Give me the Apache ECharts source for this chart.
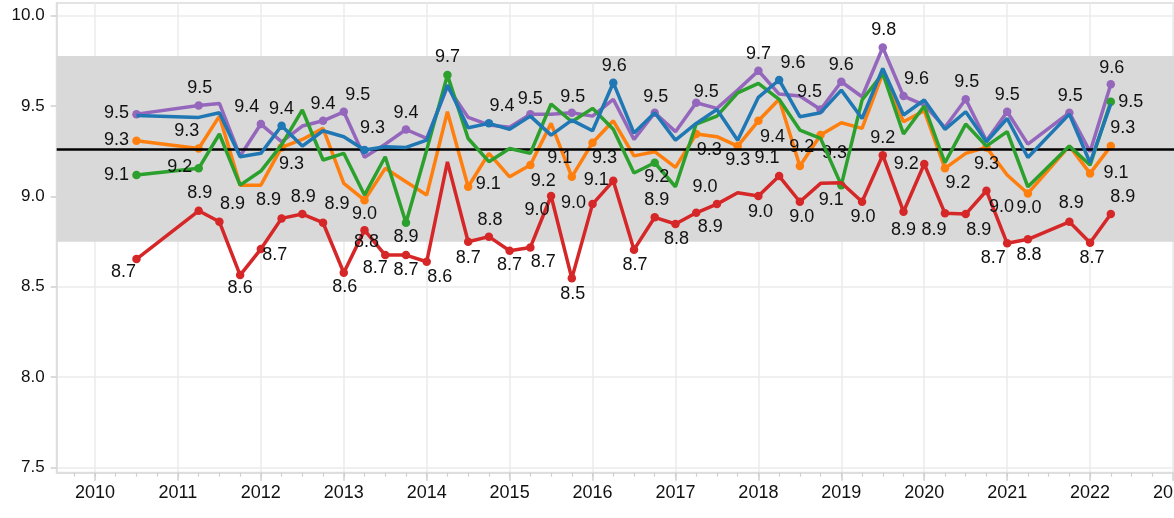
<!DOCTYPE html>
<html>
<head>
<meta charset="utf-8">
<script src="https://cdn.jsdelivr.net/npm/echarts@6/dist/echarts.min.js"></script>
<style>
html,body{margin:0;padding:0;background:#fff;}
#chart{width:1174px;height:518px;}
</style>
</head>
<body>
<div id="chart"></div>
<script>
// ---------- data ----------
const dates = ['2010-07','2011-04','2011-07','2011-10','2012-01','2012-04','2012-07','2012-10',
  '2013-01','2013-04','2013-07','2013-10','2014-01','2014-04','2014-07','2014-10',
  '2015-01','2015-04','2015-07','2015-10','2016-01','2016-04','2016-07','2016-10',
  '2017-01','2017-04','2017-07','2017-10','2018-01','2018-04','2018-07','2018-10',
  '2019-01','2019-04','2019-07','2019-10','2020-01','2020-04','2020-07','2020-10',
  '2021-01','2021-04','2021-10','2022-01','2022-04'];

const purpleValues = [9.455,9.503,9.514,9.223,9.400,9.302,9.389,9.418,9.468,9.216,9.289,9.370,
  9.321,9.607,9.437,9.395,9.382,9.455,9.455,9.463,9.444,9.537,9.315,9.463,9.358,9.518,9.487,
  9.588,9.695,9.566,9.555,9.481,9.634,9.551,9.824,9.555,9.505,9.382,9.537,9.308,9.468,9.289,
  9.463,9.247,9.621];
const blueValues = [9.448,9.437,9.463,9.219,9.238,9.391,9.278,9.363,9.330,9.256,9.275,9.271,
  9.311,9.616,9.380,9.404,9.371,9.444,9.339,9.422,9.363,9.629,9.350,9.463,9.311,9.404,9.481,
  9.311,9.548,9.644,9.441,9.463,9.588,9.431,9.708,9.450,9.533,9.371,9.468,9.302,9.431,9.215,
  9.455,9.186,9.511];
const orangeValues = [9.308,9.265,9.444,9.062,9.062,9.271,9.315,9.376,9.072,8.979,9.155,9.081,
  9.007,9.468,9.053,9.238,9.108,9.173,9.404,9.108,9.297,9.418,9.224,9.247,9.160,9.345,9.330,
  9.278,9.418,9.537,9.168,9.339,9.407,9.376,9.680,9.413,9.474,9.155,9.238,9.271,9.118,9.016,
  9.278,9.127,9.278];
const greenValues = [9.118,9.155,9.345,9.062,9.140,9.285,9.478,9.201,9.238,9.007,9.219,8.854,
  9.257,9.671,9.320,9.192,9.265,9.238,9.511,9.413,9.487,9.371,9.129,9.186,9.053,9.400,9.444,
  9.573,9.625,9.537,9.367,9.321,9.062,9.533,9.680,9.345,9.500,9.186,9.400,9.278,9.358,9.053,
  9.278,9.173,9.524];
const redValues = [8.653,8.920,8.859,8.564,8.708,8.878,8.902,8.854,8.577,8.813,8.675,8.675,
  8.638,9.191,8.749,8.777,8.699,8.717,9.002,8.546,8.957,9.086,8.705,8.884,8.847,8.909,8.957,
  9.020,9.002,9.112,8.970,9.072,9.075,8.970,9.228,8.915,9.179,8.906,8.902,9.031,8.740,8.762,
  8.859,8.743,8.902];

const bandLow = 8.749;
const bandHigh = 9.777;
const meanValue = 9.2565;

const yTickLabels = [7.5, 8.0, 8.5, 9.0, 9.5, 10.0];
const xTickLabels = [2010,2011,2012,2013,2014,2015,2016,2017,2018,2019,2020,2021,2022,2023];

// ---------- label layout (point index -> [dx, dy] in px) ----------
const purpleLabelPos = {0:[-20,-1],1:[1,-17],4:[-14,-17],7:[0,-17],8:[14,-17],11:[0,-16],17:[0,-15],
  19:[1,-16],23:[1,-16],25:[10,-11],28:[0,-17],31:[-11,-17],32:[0,-17],34:[1,-17],35:[13,-17],
  38:[1,-17],40:[0,-17],42:[1,-17],44:[1,-16]};
const blueLabelPos = {5:[0,-17],9:[8,-22],15:[13,-17],21:[1,-17],29:[14,-17]};
const orangeLabelPos = {0:[-20,-1],1:[-12,-17],5:[10,17],9:[0,14],14:[20,-3],17:[13,16],19:[-12,-19],
  20:[12,15],25:[13,16],27:[0,14],28:[14,16],30:[2,-19],31:[14,18],37:[13,15],39:[0,17],41:[1,15],
  43:[26,0],44:[12,-18]};
const greenLabelPos = {0:[-20,0],1:[-19,-1],11:[0,14],13:[0,-18],23:[2,14],32:[-10,15],44:[20,0]};
const redLabelPos = {0:[-13,13],1:[1,-18],2:[13,-18],3:[0,13],4:[14,6],5:[-13,-18],6:[1,-17],7:[14,-19],
  8:[1,14],9:[2,12],10:[-10,13],11:[0,15],12:[13,15],14:[0,16],15:[1,-17],16:[0,14],17:[13,15],
  18:[-14,14],19:[1,16],20:[-19,-1],21:[-17,-1],22:[1,15],23:[2,-17],24:[1,15],25:[14,14],
  26:[-12,-17],28:[2,16],29:[-12,-18],30:[2,15],33:[1,15],34:[0,-17],35:[0,18],36:[-18,0],
  37:[-11,17],38:[13,16],39:[15,16],40:[-14,15],41:[1,16],42:[2,-19],43:[2,15],44:[12,-17]};

// ---------- helpers ----------
const FONT = "'Liberation Sans', Arial, Helvetica, sans-serif";
function toYear(d) {
  const p = d.split('-').map(Number);
  return p[0] + (p[1] - 1) / 12;
}
const quarterTicks = [];
xTickLabels.forEach(y => { [0, 0.25, 0.5, 0.75].forEach(q => quarterTicks.push(y - 1 + q)); });

function buildSeries(name, values, color, labelPos, z) {
  return {
    type: 'line', name: name, z: z,
    color: color,
    lineStyle: { width: 3.5, color: color },
    itemStyle: { color: color },
    symbol: 'circle', symbolSize: 8.5,
    showSymbol: true,
    label: { show: false },
    emphasis: { disabled: true },
    silent: true,
    animation: false,
    data: values.map((v, i) => {
      const item = { value: [toYear(dates[i]), v] };
      const off = labelPos[i];
      if (off) {
        item.label = {
          show: true, position: 'inside', offset: off,
          formatter: p => p.value[1].toFixed(1),
          fontSize: 18, color: '#111', fontFamily: FONT,
          textBorderWidth: 0, align: 'center', verticalAlign: 'middle'
        };
      } else {
        item.symbol = 'none';
      }
      return item;
    })
  };
}

const X_MIN = 2009.538, X_MAX = 2023.012;
const Y_MIN = 7.4704, Y_MAX = 10.0701;

const chart = echarts.init(document.getElementById('chart'), null, { renderer: 'canvas' });
chart.setOption({
  animation: false,
  backgroundColor: '#fff',
  grid: {
    left: 56.7, top: 3, right: 0, bottom: 45.3,
    containLabel: false, outerBoundsMode: 'none',
    show: true, borderColor: '#e3e3e3', borderWidth: 2, backgroundColor: 'transparent'
  },
  xAxis: [{
    type: 'value', min: X_MIN, max: X_MAX,
    axisLine: { show: true, lineStyle: { color: '#dcdcdc', width: 1.5 } },
    axisTick: { show: true, length: 8, customValues: xTickLabels, lineStyle: { color: '#cfcfcf', width: 1.5 } },
    axisLabel: {
      customValues: xTickLabels, margin: 11, fontSize: 18, color: '#111', fontFamily: FONT,
      formatter: v => String(Math.round(v))
    },
    splitLine: { show: true, lineStyle: { color: '#ebebeb', width: 1.5 } }
  }, {
    type: 'value', min: X_MIN, max: X_MAX, position: 'bottom',
    axisLine: { show: false },
    axisTick: { show: true, length: 4, customValues: quarterTicks, lineStyle: { color: '#cfcfcf', width: 1.2 } },
    axisLabel: { show: false },
    splitLine: { show: false }
  }],
  yAxis: {
    type: 'value', min: Y_MIN, max: Y_MAX,
    axisLine: { show: true, lineStyle: { color: '#dcdcdc', width: 1.5 } },
    axisTick: { show: true, length: 6, customValues: yTickLabels, lineStyle: { color: '#cfcfcf', width: 1.5 } },
    axisLabel: {
      customValues: yTickLabels, margin: 12, fontSize: 17, color: '#111', fontFamily: FONT,
      formatter: v => v.toFixed(1)
    },
    splitLine: { show: true, lineStyle: { color: '#ebebeb', width: 1.5 } }
  },
  series: [
    {
      type: 'line', z: -1, silent: true, symbol: 'none',
      lineStyle: { opacity: 0 }, animation: false,
      data: redValues.map((v, i) => [toYear(dates[i]), v]),
      markArea: {
        silent: true,
        itemStyle: { color: '#d9d9d9' },
        data: [[{ yAxis: bandLow }, { yAxis: bandHigh }]]
      }
    },
    {
      type: 'line', z: 1, silent: true, symbol: 'none',
      lineStyle: { opacity: 0 }, animation: false,
      data: redValues.map((v, i) => [toYear(dates[i]), v]),
      markLine: {
        silent: true, symbol: 'none', animation: false,
        label: { show: false },
        lineStyle: { color: '#000', width: 2.5, type: 'solid' },
        data: [{ yAxis: meanValue }]
      }
    },
    buildSeries('purple', purpleValues, '#9467bd', purpleLabelPos, 3),
    buildSeries('orange', orangeValues, '#ff7f0e', orangeLabelPos, 4),
    buildSeries('green', greenValues, '#2ca02c', greenLabelPos, 5),
    buildSeries('blue', blueValues, '#1f77b4', blueLabelPos, 6),
    buildSeries('red', redValues, '#d62728', redLabelPos, 7)
  ]
});
</script>
</body>
</html>
